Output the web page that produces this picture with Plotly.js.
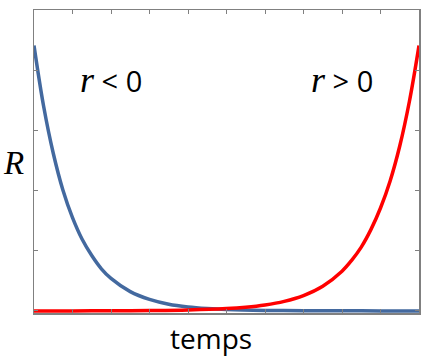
<!DOCTYPE html>
<html>
<head>
<meta charset="utf-8">
<script src="https://cdn.plot.ly/plotly-3.0.1.min.js"></script>
<style>html,body{margin:0;padding:0;background:#fff;}#chart{width:439px;height:358px;}</style>
</head>
<body>
<div id="chart"></div>
<script>
// time (in tick units) and R values
const tBlue = [0, 0.25, 0.5, 0.75, 1, 1.25, 1.5, 1.75, 2, 2.5, 3, 3.5, 4, 4.5, 5, 6, 7, 8, 9, 10];
const rNegative = [4.41, 3.40, 2.62, 2.01, 1.55, 1.19, 0.92, 0.70, 0.54, 0.32, 0.19, 0.11, 0.066, 0.04, 0.023, 0.008, 0.003, 0.001, 0, 0];
const tRed = [0, 1, 2, 3, 4, 5, 5.5, 6, 6.5, 7, 7.5, 8, 8.25, 8.5, 8.75, 9, 9.25, 9.5, 9.75, 10];
const rPositive = [0, 0, 0.002, 0.006, 0.015, 0.038, 0.061, 0.099, 0.159, 0.255, 0.41, 0.66, 0.84, 1.06, 1.35, 1.71, 2.16, 2.74, 3.48, 4.41];
const labelNeg = '<span style="font-family:\'Liberation Serif\';font-style:italic;font-size:36px">r</span> &lt; 0';
const labelPos = '<span style="font-family:\'Liberation Serif\';font-style:italic;font-size:36px">r</span> &gt; 0';
const xLabel = 'temps';
const yLabel = 'R';

const traces = [
  {x: tBlue, y: rNegative, mode: 'lines', line: {color: '#43699f', width: 3.5, shape: 'spline'}, hoverinfo: 'skip'},
  {x: tRed, y: rPositive, mode: 'lines', line: {color: '#ff0000', width: 3.5, shape: 'spline'}, hoverinfo: 'skip'}
];

const axisCommon = {
  showgrid: false, zeroline: false, showline: true, linecolor: '#808080', linewidth: 1.5,
  mirror: 'ticks', ticks: 'inside', ticklen: 4, tickcolor: '#808080', tickwidth: 1,
  showticklabels: false, fixedrange: true
};

const layout = {
  width: 439, height: 358,
  margin: {l: 34, r: 20, t: 10, b: 45},
  paper_bgcolor: '#ffffff', plot_bgcolor: '#ffffff',
  showlegend: false,
  xaxis: Object.assign({range: [0, 10], dtick: 1, tick0: 0}, axisCommon),
  yaxis: Object.assign({range: [-0.035, 5], dtick: 1, tick0: 0}, axisCommon),
  annotations: [
    {text: labelNeg, xref: 'paper', yref: 'paper', x: 0.2, y: 0.77, showarrow: false,
     font: {family: 'Open Sans', size: 29, color: '#000'}, xanchor: 'center', yanchor: 'middle'},
    {text: labelPos, xref: 'paper', yref: 'paper', x: 0.8, y: 0.77, showarrow: false,
     font: {family: 'Open Sans', size: 29, color: '#000'}, xanchor: 'center', yanchor: 'middle'},
    {text: xLabel, xref: 'paper', yref: 'paper', x: 0.46, y: -0.083, showarrow: false,
     font: {family: 'Open Sans', size: 28, color: '#000'}, xanchor: 'center', yanchor: 'middle'},
    {text: '<i>' + yLabel + '</i>', xref: 'paper', yref: 'paper', x: -0.052, y: 0.495, showarrow: false,
     font: {family: 'Liberation Serif', size: 33, color: '#000'}, xanchor: 'center', yanchor: 'middle'}
  ]
};

Plotly.newPlot('chart', traces, layout, {displayModeBar: false, staticPlot: true});
</script>
</body>
</html>
